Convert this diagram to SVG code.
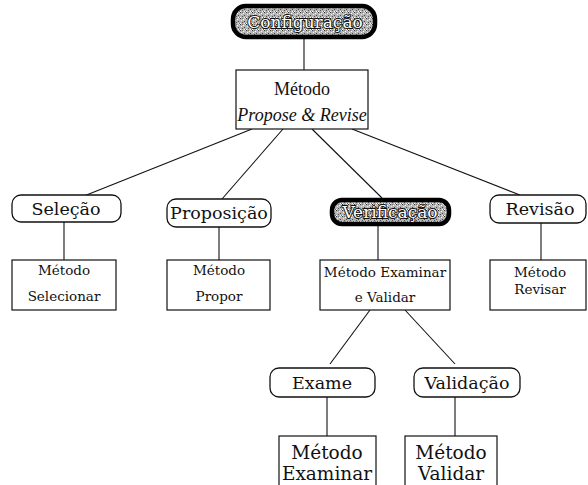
<svg xmlns="http://www.w3.org/2000/svg" width="588" height="485" viewBox="0 0 588 485">
  <style>
    .box { fill: #ffffff; stroke: #111; stroke-width: 1.2; }
    .pill { fill: #ffffff; stroke: #111; stroke-width: 1.3; }
    .dark { fill: url(#stipple); stroke: #000; stroke-width: 4.5; }
    .t { font-family: "DejaVu Serif", "Liberation Serif", serif; fill: #111; text-anchor: middle; }
    .tm { font-family: "Liberation Serif", "Times New Roman", serif; font-size: 18px; }
    .big { font-size: 17.5px; }
    .small { font-size: 13.5px; }
    .low { font-size: 18.5px; }
    .ital { font-style: italic; }
    .dk { font-size: 17px; fill: #ffffff; stroke: #111; stroke-width: 1.8; paint-order: stroke; }
    .link { stroke: #111; stroke-width: 1.1; fill: none; }
  </style>
  <defs>
    <!-- grainy grey fill used by the highlighted stages -->
    <pattern id="stipple" width="6" height="6" patternUnits="userSpaceOnUse">
      <rect width="6" height="6" fill="#b4b4b4"/>
      <rect x="0" y="0" width="1" height="1" fill="#333"/>
      <rect x="3" y="1" width="1" height="1" fill="#fff"/>
      <rect x="1" y="2" width="1" height="1" fill="#eee"/>
      <rect x="4" y="3" width="1" height="1" fill="#444"/>
      <rect x="5" y="0" width="1" height="1" fill="#ddd"/>
      <rect x="2" y="4" width="1" height="1" fill="#555"/>
      <rect x="0" y="5" width="1" height="1" fill="#fff"/>
      <rect x="5" y="5" width="1" height="1" fill="#666"/>
      <rect x="2" y="0" width="1" height="1" fill="#777"/>
      <rect x="4" y="5" width="1" height="1" fill="#f4f4f4"/>
    </pattern>
  </defs>

  <!-- connectors -->
  <g id="connectors">
    <line class="link" x1="304" y1="38" x2="304" y2="70"/>
    <line class="link" x1="252" y1="129" x2="84" y2="196"/>
    <line class="link" x1="283" y1="129" x2="222" y2="199"/>
    <line class="link" x1="312" y1="129" x2="382" y2="198"/>
    <line class="link" x1="352" y1="129" x2="520" y2="195"/>
    <line class="link" x1="64" y1="222" x2="64" y2="260"/>
    <line class="link" x1="219" y1="227" x2="219" y2="260"/>
    <line class="link" x1="378" y1="225" x2="378" y2="260"/>
    <line class="link" x1="541" y1="223" x2="541" y2="260"/>
    <line class="link" x1="370" y1="310" x2="330" y2="364"/>
    <line class="link" x1="405" y1="310" x2="455" y2="364"/>
    <line class="link" x1="327" y1="397" x2="327" y2="436"/>
    <line class="link" x1="455" y1="397" x2="455" y2="436"/>
  </g>

  <g id="configuracao">
    <rect class="dark" x="233" y="6" width="142" height="31" rx="13"/>
    <text class="t dk" x="305" y="28">Configuração</text>
  </g>

  <g id="metodo-propose-revise">
    <rect class="box" x="236" y="70" width="132" height="59"/>
    <text class="t tm" x="302" y="95">Método</text>
    <text class="t tm ital" x="302" y="121">Propose &amp; Revise</text>
  </g>

  <g id="selecao">
    <rect class="pill" x="12" y="195" width="109" height="27" rx="9"/>
    <text class="t big" x="66" y="215">Seleção</text>
  </g>
  <g id="proposicao">
    <rect class="pill" x="167" y="199" width="104" height="28" rx="9"/>
    <text class="t big" x="219" y="219">Proposição</text>
  </g>
  <g id="verificacao">
    <rect class="dark" x="332" y="200" width="117" height="24" rx="10"/>
    <text class="t dk" x="390" y="218">Verificação</text>
  </g>
  <g id="revisao">
    <rect class="pill" x="490" y="195" width="96" height="28" rx="9"/>
    <text class="t big" x="540" y="215">Revisão</text>
  </g>

  <g id="metodo-selecionar">
    <rect class="box" x="12" y="260" width="104" height="50"/>
    <text class="t small" x="64" y="275">Método</text>
    <text class="t small" x="64" y="301">Selecionar</text>
  </g>
  <g id="metodo-propor">
    <rect class="box" x="167" y="260" width="103" height="50"/>
    <text class="t small" x="219" y="275">Método</text>
    <text class="t small" x="219" y="301">Propor</text>
  </g>
  <g id="metodo-examinar-validar">
    <rect class="box" x="320" y="260" width="130" height="50"/>
    <text class="t small" x="385" y="277">Método Examinar</text>
    <text class="t small" x="385" y="302">e Validar</text>
  </g>
  <g id="metodo-revisar">
    <rect class="box" x="490" y="260" width="96" height="50"/>
    <text class="t small" x="540" y="277">Método</text>
    <text class="t small" x="540" y="294">Revisar</text>
  </g>

  <g id="exame">
    <rect class="pill" x="270" y="368" width="105" height="29" rx="9"/>
    <text class="t big" x="322" y="389">Exame</text>
  </g>
  <g id="validacao">
    <rect class="pill" x="414" y="368" width="106" height="29" rx="9"/>
    <text class="t big" x="467" y="389">Validação</text>
  </g>

  <g id="metodo-examinar">
    <rect class="box" x="279" y="436" width="97" height="55"/>
    <text class="t low" x="327" y="459">Método</text>
    <text class="t low" x="327" y="480">Examinar</text>
  </g>
  <g id="metodo-validar">
    <rect class="box" x="405" y="436" width="92" height="55"/>
    <text class="t low" x="451" y="459">Método</text>
    <text class="t low" x="451" y="480">Validar</text>
  </g>
</svg>
